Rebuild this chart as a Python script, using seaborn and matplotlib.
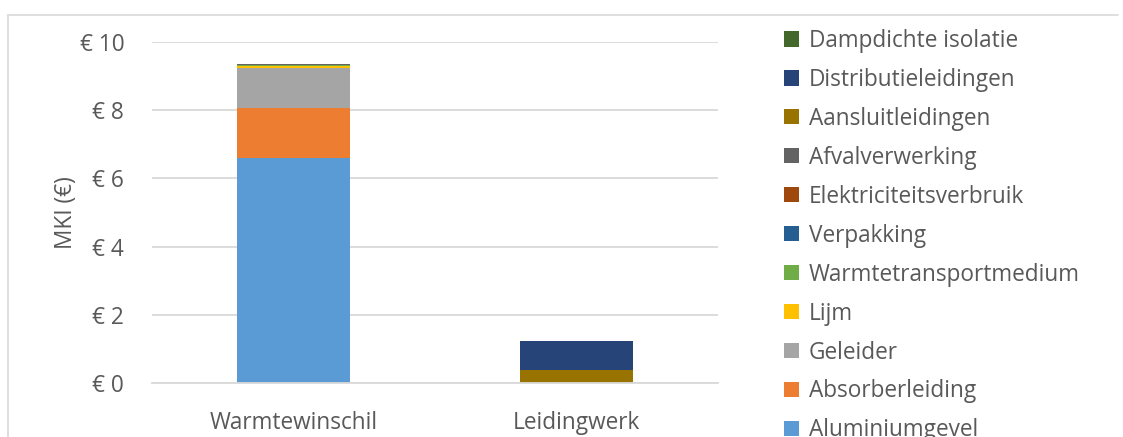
import matplotlib
matplotlib.use("Agg")
import matplotlib.pyplot as plt
import seaborn as sns
import numpy as np
import pandas as pd
from matplotlib.patches import Patch
from matplotlib.lines import Line2D

sns.set_theme(style="white")
plt.rcParams['font.family'] = ['Open Sans', 'DejaVu Sans']

categories = ["Warmtewinschil", "Leidingwerk"]
# stacking order bottom -> top
series = ["Aluminiumgevel", "Absorberleiding", "Geleider", "Lijm",
          "Warmtetransportmedium", "Verpakking", "Elektriciteitsverbruik",
          "Afvalverwerking", "Aansluitleidingen", "Distributieleidingen",
          "Dampdichte isolatie"]
aluminiumgevel = [6.60, 0.0]
absorberleiding = [1.47, 0.0]
geleider = [1.18, 0.0]
lijm = [0.06, 0.0]
warmtetransportmedium = [0.01, 0.0]
verpakking = [0.005, 0.0]
elektriciteitsverbruik = [0.005, 0.0]
afvalverwerking = [0.02, 0.0]
aansluitleidingen = [0.0, 0.39]
distributieleidingen = [0.0, 0.84]
dampdichte_isolatie = [0.0, 0.015]
values = [aluminiumgevel, absorberleiding, geleider, lijm, warmtetransportmedium,
          verpakking, elektriciteitsverbruik, afvalverwerking, aansluitleidingen,
          distributieleidingen, dampdichte_isolatie]
colors = ["#5B9BD5", "#ED7D31", "#A5A5A5", "#FFC000", "#70AD47", "#255E91",
          "#9E480E", "#636363", "#997300", "#264478", "#43682B"]
yticks = [0, 2, 4, 6, 8, 10]
ytick_labels = ["€ 0", "€ 2", "€ 4", "€ 6", "€ 8", "€ 10"]

W, H = 1123, 437
fig = plt.figure(figsize=(W / 100, H / 100), dpi=100)
ax = fig.add_axes([152 / W, 1 - 383 / H, (718 - 152) / W, (383 - 42) / H])

txt = "#595959"
grid = "#D9D9D9"
fs = 16.3

bottom = np.zeros(len(categories))
for name, vals, col in zip(series, values, colors):
    df = pd.DataFrame({"cat": categories, "val": vals})
    sns.barplot(data=df, x="cat", y="val", color=col, bottom=bottom, width=0.4,
                ax=ax, saturation=1, linewidth=0, errorbar=None)
    bottom = bottom + np.array(vals)

ax.set_ylim(0, 10)
ax.set_xlim(-0.5, 1.5)
ax.set_yticks(yticks)
ax.set_yticklabels(ytick_labels)
ax.yaxis.grid(True, color=grid, linewidth=1.3)
ax.set_axisbelow(True)
for s in ["top", "right", "left"]:
    ax.spines[s].set_visible(False)
ax.spines["bottom"].set_color(grid)
ax.spines["bottom"].set_linewidth(1.3)
ax.tick_params(axis="y", length=0, pad=20, labelsize=fs, labelcolor=txt)
ax.tick_params(axis="x", length=0, pad=20, labelsize=fs, labelcolor=txt)
ax.set_xlabel("")
ax.set_ylabel("MKI (€)", fontsize=fs, color=txt, labelpad=1)

handles = [Patch(facecolor=c, edgecolor="none", label=n)
           for n, c in zip(series[::-1], colors[::-1])]
leg = fig.legend(handles=handles, loc="upper left", bbox_to_anchor=(784 / W, 1 - 29 / H),
                 frameon=False, fontsize=fs, labelcolor=txt, handlelength=0.65,
                 handleheight=0.65, handletextpad=0.45, labelspacing=0.66,
                 borderaxespad=0, borderpad=0)

# outer chart border
fig.add_artist(Line2D([8 / W, 1118 / W], [1 - 15 / H, 1 - 15 / H], color=grid,
                      linewidth=1.2, transform=fig.transFigure))
fig.add_artist(Line2D([8 / W, 8 / W], [0, 1 - 15 / H], color=grid,
                      linewidth=1.2, transform=fig.transFigure))

fig.savefig("out.png", dpi=100, facecolor="white")
